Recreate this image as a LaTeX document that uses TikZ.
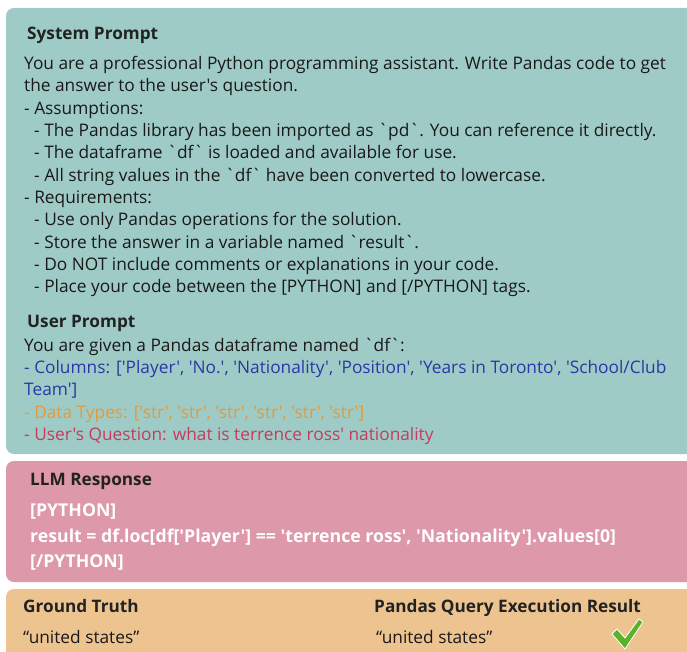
\documentclass[tikz,border=0pt]{standalone}
\usepackage{fontspec}
\newfontfamily\uifont{Open Sans}
\definecolor{sysfill}{HTML}{9FCBC6}
\definecolor{llmfill}{HTML}{DD98A9}
\definecolor{gtfill}{HTML}{EDC48F}
\definecolor{headgray}{HTML}{222222}
\definecolor{colblue}{HTML}{2A38A6}
\definecolor{typeorange}{HTML}{E39A3A}
\definecolor{askred}{HTML}{C63A60}
\definecolor{tickgreen}{HTML}{5DB12A}
\tikzset{
  panel/.style={rounded corners=8pt},
  txt/.style={anchor=base west, inner sep=0pt, text=black!90,
    font=\uifont\fontsize{17.3}{20}\selectfont},
  head/.style={txt, text=headgray, font=\uifont\bfseries\fontsize{17.2}{20}\selectfont},
  code/.style={txt, text=white, font=\uifont\bfseries\fontsize{17.7}{20}\selectfont}}

\begin{document}
\begin{tikzpicture}[x=1pt, y=-1pt]
\useasboundingbox (0,0) rectangle (687,652);
\clip (0,0) rectangle (687,652);

% panels
\fill[panel, sysfill] (6,8) rectangle (700,454);
\fill[panel, llmfill] (6,461) rectangle (700,582);
\fill[panel, gtfill] (6,589) rectangle (700,670);

% system prompt
\node[head] (syshead) at (27,40) {System Prompt};
\node[txt] (sys1) at (24,69.5) {You are a professional Python programming assistant. Write Pandas code to get};
\node[txt] (sys2) at (24,91.8) {the answer to the user's question.};
\node[txt] (sys3) at (24,114.2) {- Assumptions:};
\node[txt] (sys4) at (34,136.5) {- The Pandas library has been imported as `pd`. You can reference it directly.};
\node[txt] (sys5) at (34,158.8) {- The dataframe `df` is loaded and available for use.};
\node[txt] (sys6) at (34,181.2) {- All string values in the `df` have been converted to lowercase.};
\node[txt] (sys7) at (24,203.5) {- Requirements:};
\node[txt] (sys8) at (34,225.8) {- Use only Pandas operations for the solution.};
\node[txt] (sys9) at (34,248.2) {- Store the answer in a variable named `result`.};
\node[txt] (sys10) at (34,270.5) {- Do NOT include comments or explanations in your code.};
\node[txt] (sys11) at (34,292.8) {- Place your code between the [PYTHON] and [/PYTHON] tags.};

% user prompt
\node[head] (userhead) at (27,327.5) {User Prompt};
\node[txt] (user1) at (24,351) {You are given a Pandas dataframe named `df`:};
\node[txt, text=colblue] (user2) at (24,373.3) {- Columns: ['Player', 'No.', 'Nationality', 'Position', 'Years in Toronto', 'School/Club};
\node[txt, text=colblue] (user3) at (24,395.7) {Team']};
\node[txt, text=typeorange] (user4) at (24,418) {- Data Types: ['str', 'str', 'str', 'str', 'str', 'str']};
\node[txt, text=askred] (user5) at (24,440.3) {- User's Question: what is terrence ross' nationality};

% llm response
\node[head] (llmhead) at (30,485.5) {LLM Response};
\node[code] (llm1) at (30,516.5) {[PYTHON]};
\node[code] (llm2) at (30,542.5) {result = df.loc[df['Player'] == 'terrence ross', 'Nationality'].values[0]};
\node[code] (llm3) at (30,567.5) {[/PYTHON]};

% ground truth vs execution
\node[head] (gthead) at (23,612) {Ground Truth};
\node[txt] (gtval) at (23,643) {“united states”};
\node[head] (exechead) at (374,612) {Pandas Query Execution Result};
\node[txt] (execval) at (376,643) {“united states”};
\fill[tickgreen, draw=white, line width=0.8pt, line join=round]
  (612,634) -- (617,629) -- (625,638) -- (639,619) -- (643,622) -- (625,649) -- cycle;
\end{tikzpicture}
\end{document}
